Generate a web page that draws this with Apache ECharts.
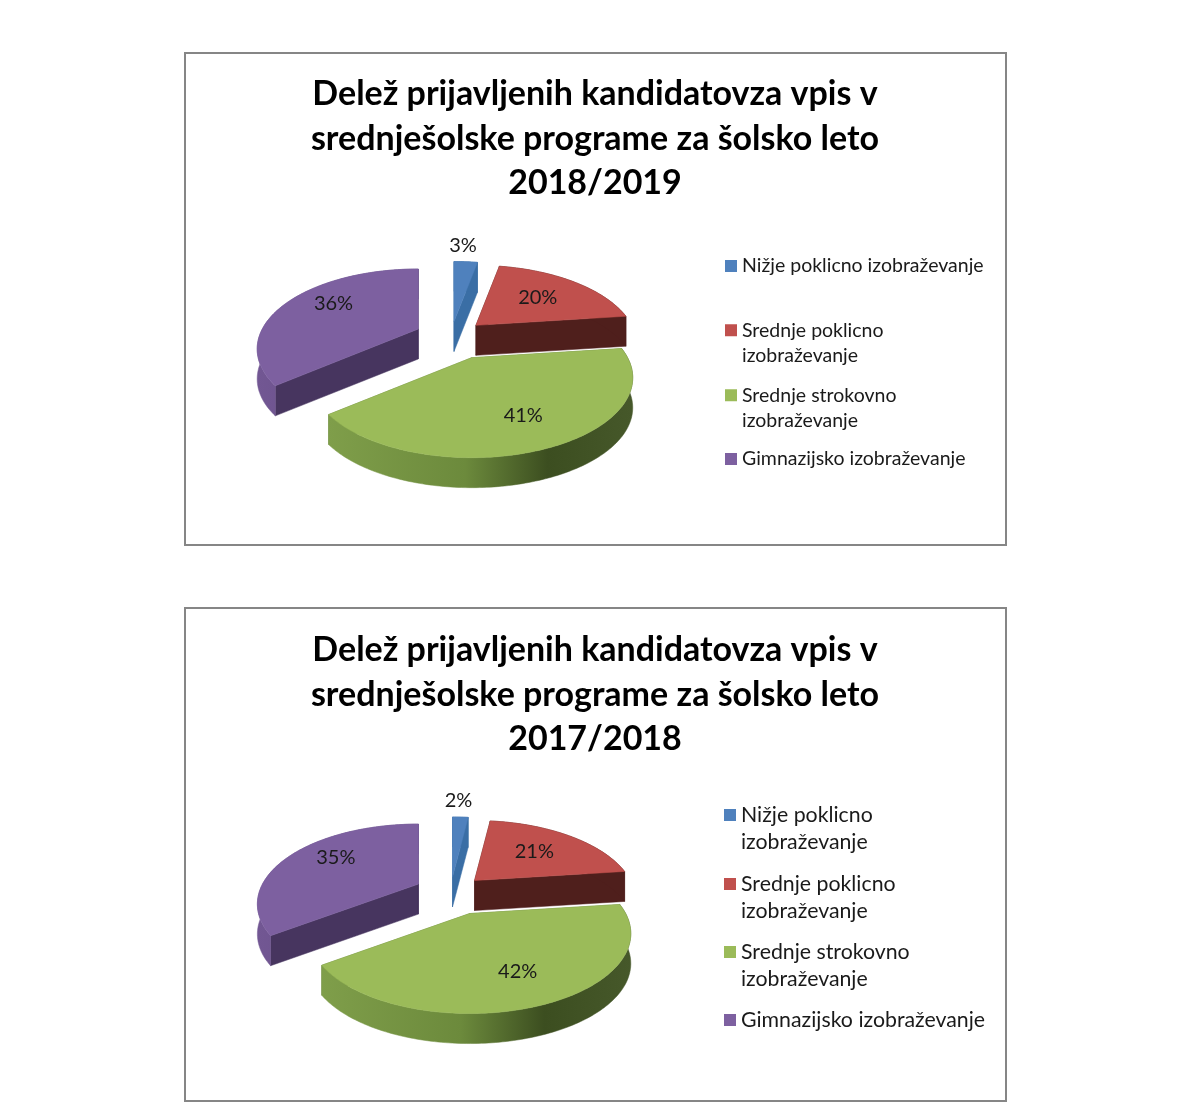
<!DOCTYPE html>
<html><head><meta charset="utf-8">
<style>html,body{margin:0;padding:0;background:#fff}#c{width:1200px;height:1107px}</style>
<script src="https://cdn.jsdelivr.net/npm/echarts@6/dist/echarts.min.js"></script>
</head><body><div id="c"></div>
<script>
// ---- data ----
const categories = ['Nižje poklicno izobraževanje','Srednje poklicno izobraževanje','Srednje strokovno izobraževanje','Gimnazijsko izobraževanje'];
const values2018 = [3, 20, 41, 36];
const values2017 = [2, 21, 42, 35];
const titleText2018 = 'Delež prijavljenih kandidatovza vpis v\nsrednješolske programe za šolsko leto\n2018/2019';
const titleText2017 = 'Delež prijavljenih kandidatovza vpis v\nsrednješolske programe za šolsko leto\n2017/2018';
const legendLines2018 = ['Nižje poklicno izobraževanje','Srednje poklicno\nizobraževanje','Srednje strokovno\nizobraževanje','Gimnazijsko izobraževanje'];
const legendLines2017 = ['Nižje poklicno\nizobraževanje','Srednje poklicno\nizobraževanje','Srednje strokovno\nizobraževanje','Gimnazijsko izobraževanje'];

// ---- style ----
const topColors = ['#4F81BD','#C0504D','#9BBB59','#7D60A0'];
const cutColors = ['#3A6EA5','#4F1F1C','#5d7a32','#47355F'];
const rimFills = [
  '#3A6EA5','#4F1F1C',
  new echarts.graphic.LinearGradient(0,0,1,0,[{offset:0,color:'#7F9E4A'},{offset:.45,color:'#6C8A3C'},{offset:.72,color:'#3C4E20'},{offset:1,color:'#46582A'}]),
  new echarts.graphic.LinearGradient(0,0,1,0,[{offset:0,color:'#725793'},{offset:1,color:'#5E4780'}])
];
const drawOrder = [2,3,4,1];          // z per category
const labelRadius = [1.36,.6,.7,.7];
const labelAngleFactor = [.6,1,1,1.023];
const FONT = 'Lato';
const PIE = {C:156, A:75, B:.25, ex:40, ey:18.2, depth:30};

function project(apex, u, w){
  const den = 1 - PIE.B*w;
  return [apex[0] + PIE.C*u/den, apex[1] + PIE.A*w/den];
}
function apexOf(center, midDeg){
  const t = midDeg*Math.PI/180, w = -Math.cos(t), den = 1-PIE.B*w;
  return [center[0] + PIE.ex*Math.sin(t)/den, center[1] + PIE.ey*w/den];
}
function pieSeries(values, names, center){
  let cum = 0;
  return values.map((v,i)=>{
    const start = cum; cum += v;
    return {
      type:'custom', coordinateSystem:'none', name:names[i], z:drawOrder[i],
      animation:false, silent:true, itemStyle:{color:topColors[i]},
      data:[[v,start]],
      renderItem(params, api){
        const val = api.value(0), st = api.value(1);
        const a0 = st*3.6, a1 = (st+val)*3.6, mid = (a0+a1)/2;
        const apex = apexOf(center, mid);
        const pt = d => {const t=d*Math.PI/180; return project(apex, Math.sin(t), -Math.cos(t));};
        const arc = [];
        for(let d=a0; d<a1; d+=1) arc.push(pt(d));
        arc.push(pt(a1));
        const D = PIE.depth, down = p => [p[0], p[1]+D];
        const poly = (points, fill) => ({type:'polygon', shape:{points}, style:{fill, stroke:fill, lineWidth:.5}});
        const first = arc[0], last = arc[arc.length-1];
        const t = mid*labelAngleFactor[i]*Math.PI/180, r = labelRadius[i];
        const lp = project(apex, r*Math.sin(t), -r*Math.cos(t));
        return {type:'group', children:[
          poly([apex,first,down(first),down(apex)], cutColors[i]),
          poly([apex,last,down(last),down(apex)], cutColors[i]),
          poly(arc.concat(arc.slice().reverse().map(down)), rimFills[i]),
          poly([apex].concat(arc), topColors[i]),
          {type:'text', z2:10, style:{text:val+'%', x:lp[0], y:lp[1], align:'center', verticalAlign:'middle',
            font:'20px '+FONT, fill:'#1a1a1a'}}
        ]};
      }
    };
  });
}
function legendRows(names, centers, size, lineH, left){
  return names.map((n,i)=>{
    const lines = n.split('\n').length, H = lines*lineH, s = 12;
    const a = lineH/2 - s/2;
    const icon = lines>1 ? `path://M0,0L0,0M0,${a}H${s}V${a+s}H0ZM${s},${H}L${s},${H}` : 'rect';
    return {
      orient:'vertical', left, top:centers[i]-H/2, padding:0, selectedMode:false,
      itemWidth:s, itemHeight:lines>1?H:s, data:[{name:n, icon}],
      itemStyle:{borderWidth:0},
      textStyle:{fontFamily:FONT, fontSize:size, lineHeight:lineH, color:'#1a1a1a'}
    };
  });
}
function titleOf(text, top){
  return {text, left:595, top, textAlign:'center', padding:0,
    textStyle:{fontFamily:FONT, fontWeight:'bold', fontSize:34, lineHeight:44.5, color:'#000'}};
}
function frame(y,h){
  return {type:'rect', shape:{x:185,y,width:821,height:h}, style:{fill:'#fff',stroke:'#868686',lineWidth:2}, z:-1};
}

const chart = echarts.init(document.getElementById('c'), null, {renderer:'canvas'});
chart.setOption({
  backgroundColor:'#fff',
  animation:false,
  graphic:[frame(53,492),frame(608,493)],
  title:[titleOf(titleText2018,72),titleOf(titleText2017,628)],
  legend:[...legendRows(legendLines2018,[266,343,408,459],19.5,25.5,725),
          ...legendRows(legendLines2017,[828.5,897.5,965.5,1020],21.3,27,724)],
  series:[...pieSeries(values2018,legendLines2018,[451,336]),
          ...pieSeries(values2017,legendLines2017,[450.5,891.5])]
});
</script></body></html>
